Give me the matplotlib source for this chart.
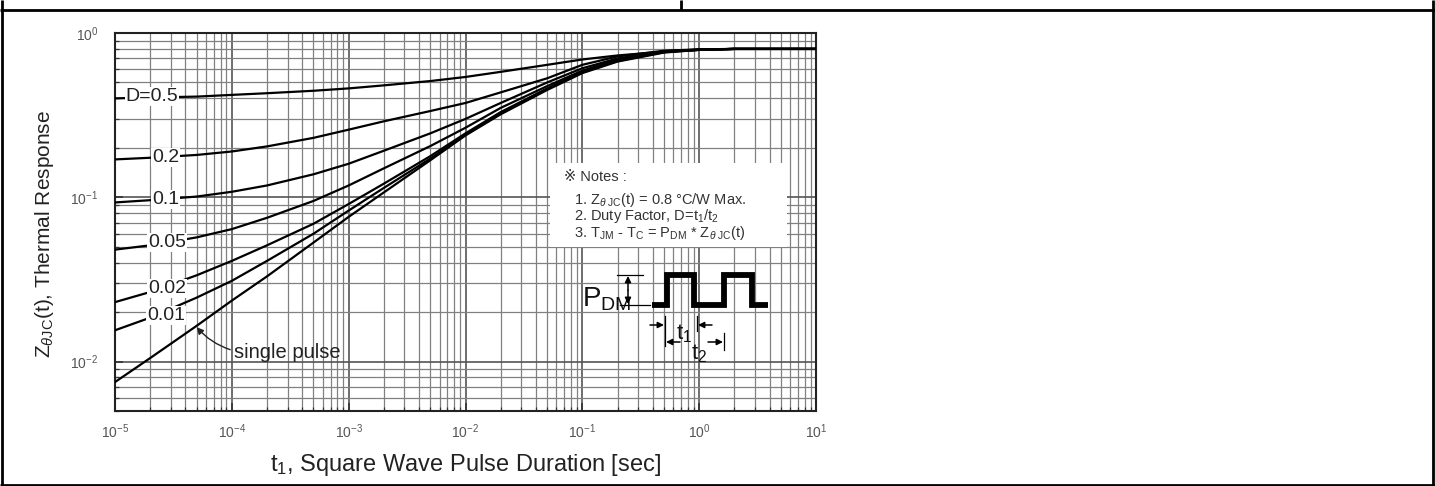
import matplotlib.pyplot as plt
from matplotlib.patches import Rectangle
from matplotlib.ticker import LogLocator, NullFormatter

plt.rcParams["font.family"] = ["Liberation Sans", "DejaVu Sans"]
plt.rcParams["mathtext.fontset"] = "custom"
plt.rcParams["mathtext.rm"] = "Liberation Sans"
plt.rcParams["mathtext.it"] = "Liberation Sans:italic"
plt.rcParams["mathtext.bf"] = "Liberation Sans:bold"

# pulse width t1 [sec]
pulseTime = [1e-5, 2e-5, 5e-5, 1e-4, 2e-4, 5e-4, 1e-3, 2e-3, 5e-3, 1e-2,
             2e-2, 5e-2, 1e-1, 2e-1, 5e-1, 1, 2, 5, 10]

# thermal response Z(t) for each duty factor
zD50 = [0.400, 0.405, 0.410, 0.420, 0.430, 0.445, 0.460, 0.480, 0.510, 0.540,
        0.580, 0.640, 0.690, 0.730, 0.770, 0.790, 0.800, 0.800, 0.800]
zD20 = [0.170, 0.174, 0.181, 0.190, 0.204, 0.230, 0.258, 0.290, 0.335, 0.375,
        0.435, 0.530, 0.640, 0.720, 0.780, 0.795, 0.800, 0.800, 0.800]
zD10 = [0.093, 0.096, 0.101, 0.108, 0.118, 0.138, 0.160, 0.192, 0.245, 0.300,
        0.375, 0.500, 0.610, 0.700, 0.775, 0.793, 0.800, 0.800, 0.800]
zD05 = [0.048, 0.051, 0.057, 0.064, 0.075, 0.095, 0.118, 0.150, 0.205, 0.265,
        0.350, 0.475, 0.590, 0.690, 0.772, 0.792, 0.800, 0.800, 0.800]
zD02 = [0.023, 0.0265, 0.0335, 0.041, 0.051, 0.069, 0.091, 0.121, 0.178, 0.245,
        0.330, 0.460, 0.580, 0.680, 0.768, 0.790, 0.800, 0.800, 0.800]
zD01 = [0.0155, 0.0185, 0.0245, 0.031, 0.041, 0.060, 0.083, 0.114, 0.172, 0.240,
        0.325, 0.455, 0.575, 0.675, 0.765, 0.790, 0.800, 0.800, 0.800]
zSingle = [0.0075, 0.0105, 0.0165, 0.0235, 0.033, 0.053, 0.076, 0.107, 0.168, 0.238,
           0.320, 0.450, 0.570, 0.670, 0.760, 0.789, 0.800, 0.800, 0.800]

curves = [zD50, zD20, zD10, zD05, zD02, zD01, zSingle]
dutyLabels = ["D=0.5", "0.2", "0.1", "0.05", "0.02", "0.01"]

W, H = 1435, 486
fig = plt.figure(figsize=(W / 100, H / 100), dpi=100)
ax = fig.add_axes([115 / W, 1 - 411 / H, 701 / W, 378 / H])

for z in curves:
    ax.plot(pulseTime, z, color="black", lw=1.6, zorder=3)

ax.set_xscale("log")
ax.set_yscale("log")
ax.set_xlim(1e-5, 10)
ax.set_ylim(5e-3, 1)

ax.xaxis.set_major_locator(LogLocator(base=10, numticks=10))
ax.xaxis.set_minor_locator(LogLocator(base=10, subs=range(2, 10), numticks=20))
ax.yaxis.set_minor_locator(LogLocator(base=10, subs=range(2, 10), numticks=20))
ax.xaxis.set_minor_formatter(NullFormatter())
ax.yaxis.set_minor_formatter(NullFormatter())
ax.grid(True, which="major", color="#555555", lw=1.2)
ax.grid(True, which="minor", color="#808080", lw=0.9)
ax.tick_params(which="both", direction="in", colors="#333333", labelcolor="#555555",
               labelsize=10)
ax.tick_params(which="major", length=6, width=1.2)
ax.tick_params(which="minor", length=3, width=0.9)
ax.tick_params(axis="x", pad=8)
ax.tick_params(axis="y", pad=12)
for s in ax.spines.values():
    s.set_color("#222222")
    s.set_linewidth(1.5)

# curve labels sit on their lines
labelPos = [(2.07e-5, 0.41), (2.7e-5, 0.175), (2.7e-5, 0.097),
            (2.8e-5, 0.053), (2.8e-5, 0.0277), (2.75e-5, 0.019)]
for text, (lx, ly) in zip(dutyLabels, labelPos):
    ax.text(lx, ly, text, fontsize=14, color="#222222", ha="center", va="center",
            zorder=5, bbox=dict(boxstyle="square,pad=0.05", fc="white", ec="none"))

ax.annotate("single pulse", xy=(5.0e-5, 0.0162), xytext=(3.0e-4, 0.0113),
            fontsize=14.5, color="#222222", ha="center", va="center", zorder=5,
            arrowprops=dict(arrowstyle="-|>", color="#222222", lw=1,
                            shrinkA=1, shrinkB=0, mutation_scale=10,
                            relpos=(0, 0.6),
                            connectionstyle="arc3,rad=-0.15"))

# notes panel
ax.add_patch(Rectangle((0.6205, 0.434), 0.338, 0.222, transform=ax.transAxes,
                       fc="white", ec="none", zorder=2))
noteKw = dict(transform=ax.transAxes, fontsize=10.5, color="#333333", va="center",
              zorder=4)
ax.text(0.64, 0.618, "※ Notes :", **noteKw)
ax.text(0.655, 0.558, r"1. Z$_{\theta\ \mathrm{JC}}$(t) = 0.8 °C/W Max.", **noteKw)
ax.text(0.655, 0.517, r"2. Duty Factor, D=t$_1$/t$_2$", **noteKw)
ax.text(0.655, 0.472,
        r"3. T$_{\mathrm{JM}}$ - T$_\mathrm{C}$ = P$_{\mathrm{DM}}$ * Z$_{\theta\ \mathrm{JC}}$(t)",
        **noteKw)

ax.set_xlabel(r"t$_1$, Square Wave Pulse Duration [sec]", fontsize=17,
              color="#222222", labelpad=8)
ax.set_ylabel(r"Z$_{\theta\mathrm{JC}}$(t), Thermal Response", fontsize=15,
              color="#222222")
ax.yaxis.set_label_coords(-0.084, 0.468)

# overlay in pixel units: table frame and the pulse sketch
ov = fig.add_axes([0, 0, 1, 1], zorder=10)
ov.set_xlim(0, W)
ov.set_ylim(H, 0)
ov.axis("off")
ov.patch.set_alpha(0)

lineKw = dict(color="black", lw=2, solid_capstyle="butt")
ov.plot([1.5, 1.5], [0, H], **lineKw)
ov.plot([W - 2, W - 2], [0, H], **lineKw)
ov.plot([0, W], [10.5, 10.5], **lineKw)
ov.plot([0, W], [H - 1.5, H - 1.5], **lineKw)
ov.plot([681, 681], [0, 10.5], **lineKw)

ov.plot([652, 667, 667, 694, 694, 724, 724, 752, 752, 768],
        [305, 305, 275, 275, 305, 305, 275, 275, 305, 305],
        color="black", lw=4.2, solid_joinstyle="miter", solid_capstyle="butt")
ov.text(582, 299, r"P$_{\mathrm{DM}}$", fontsize=20, color="#111111", va="center")
ov.plot([617, 643], [275, 275], color="black", lw=0.9)
ov.plot([620, 650], [305, 305], color="black", lw=0.9)
arrowKw = dict(arrowstyle="-|>", color="black", lw=1.1, mutation_scale=9,
               shrinkA=0, shrinkB=0)
ov.annotate("", xy=(628, 276), xytext=(628, 290), arrowprops=arrowKw)
ov.annotate("", xy=(628, 304), xytext=(628, 290), arrowprops=arrowKw)

ov.plot([665, 665], [316, 346], color="black", lw=0.9)
ov.plot([697, 697], [316, 331], color="black", lw=0.9)
ov.plot([724, 724], [333, 350], color="black", lw=0.9)
ov.annotate("", xy=(664, 325), xytext=(650, 325), arrowprops=arrowKw)
ov.annotate("", xy=(698, 325), xytext=(712, 325), arrowprops=arrowKw)
ov.annotate("", xy=(666, 342), xytext=(680, 342), arrowprops=arrowKw)
ov.annotate("", xy=(723, 342), xytext=(708, 342), arrowprops=arrowKw)
ov.text(676, 334, r"t$_1$", fontsize=16, color="#111111", va="center")
ov.text(691, 354, r"t$_2$", fontsize=16, color="#111111", va="center")

fig.savefig("out.png", dpi=100)
